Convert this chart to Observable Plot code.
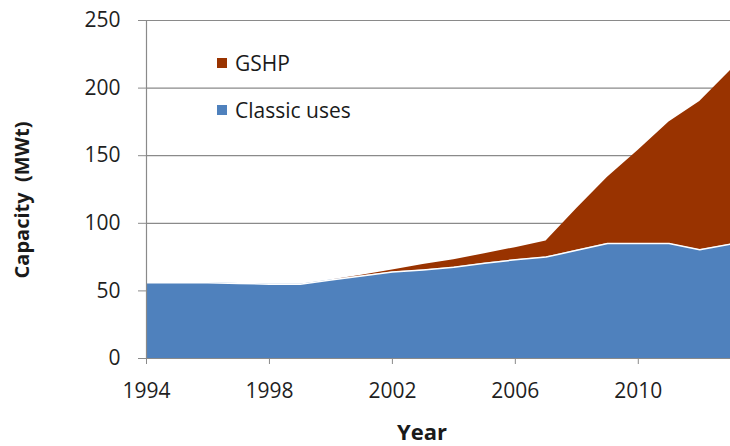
<!DOCTYPE html>
<html>
<head>
<meta charset="utf-8">
<script src="https://cdn.jsdelivr.net/npm/d3@7"></script>
<script src="https://cdn.jsdelivr.net/npm/@observablehq/plot@0.6"></script>
<style>
  html, body { margin: 0; padding: 0; background: #fff; }
  #wrap { position: relative; width: 730px; height: 446px; font-family: "Open Sans", sans-serif; color: #1a1a1a; }
  .leg { position: absolute; display: flex; align-items: center; font-size: 21px; line-height: 21px; white-space: nowrap; }
  .sw { width: 10px; height: 10px; margin-right: 8px; }
  .title { position: absolute; font-weight: bold; white-space: nowrap; }
</style>
</head>
<body>
<div id="wrap"></div>
<script>
const years = [1994,1995,1996,1997,1998,1999,2000,2001,2002,2003,2004,2005,2006,2007,2008,2009,2010,2011,2012,2013];
const classicUses = [56,56,56,55.5,55,55,58,61,64,65.5,67.5,70.5,73,75,80,85,85,85,80.5,84.5];
const gshp = [0,0,0,0,0,0,0,0.5,1.5,4,5.5,7,9,12,31,49,69,90,109.5,128.5];
const seriesNames = ["Classic uses", "GSHP"];
const seriesColors = ["#4F81BD", "#993300"];
const xTicks = [1994,1998,2002,2006,2010];
const yTicks = [0,50,100,150,200,250];

const rows = [];
years.forEach((y, i) => {
  rows.push({year: y, series: seriesNames[0], value: classicUses[i]});
  rows.push({year: y, series: seriesNames[1], value: gshp[i]});
});

const chart = Plot.plot({
  width: 730,
  height: 446,
  marginLeft: 146,
  marginRight: 0,
  marginTop: 20,
  marginBottom: 88,
  style: {fontFamily: "Open Sans, sans-serif", background: "#fff"},
  x: {domain: [1994, 2013], label: null},
  y: {domain: [0, 250], label: null},
  color: {domain: seriesNames, range: seriesColors},
  marks: [
    Plot.gridY({ticks: yTicks, stroke: "#8a8a8a", strokeOpacity: 1, strokeWidth: 1.2}),
    Plot.areaY(rows, {x: "year", y: "value", fill: "series", z: "series", order: seriesNames}),
    Plot.lineY(years, {x: d => d, y: (d, i) => classicUses[i], stroke: "#fff", strokeWidth: 1.5}),
    Plot.ruleX([1994], {stroke: "#8a8a8a", strokeWidth: 1.2}),
    Plot.ruleY([0], {stroke: "#8a8a8a", strokeWidth: 1.2}),
    Plot.axisY({ticks: yTicks, tickSize: 8, tickPadding: 18, fontSize: 21, stroke: "#8a8a8a", fill: "#1f1f1f", label: null}),
    Plot.axisX({ticks: xTicks, tickFormat: d => String(d), tickSize: 6, tickPadding: 19, fontSize: 21, stroke: "#8a8a8a", fill: "#1f1f1f", label: null})
  ]
});

const wrap = document.getElementById("wrap");
wrap.appendChild(chart);

// legend (inside plot area, top-left)
[[seriesNames[1], seriesColors[1], 52.5], [seriesNames[0], seriesColors[0], 99.5]].forEach(([name, col, top]) => {
  const d = document.createElement("div");
  d.className = "leg";
  d.style.left = "217px";
  d.style.top = top + "px";
  d.innerHTML = `<span class="sw" style="background:${col}"></span><span>${name}</span>`;
  wrap.appendChild(d);
});

// axis titles
const xt = document.createElement("div");
xt.className = "title";
xt.textContent = "Year";
xt.style.cssText += "left:422px;top:420px;font-size:22px;line-height:22px;transform:translateX(-50%);";
wrap.appendChild(xt);

const yt = document.createElement("div");
yt.className = "title";
yt.textContent = "Capacity\u00a0\u00a0(MWt)";
yt.style.cssText += "left:22px;top:200px;font-size:20px;line-height:20px;transform:translate(-50%,-50%) rotate(-90deg);";
wrap.appendChild(yt);
</script>
</body>
</html>
